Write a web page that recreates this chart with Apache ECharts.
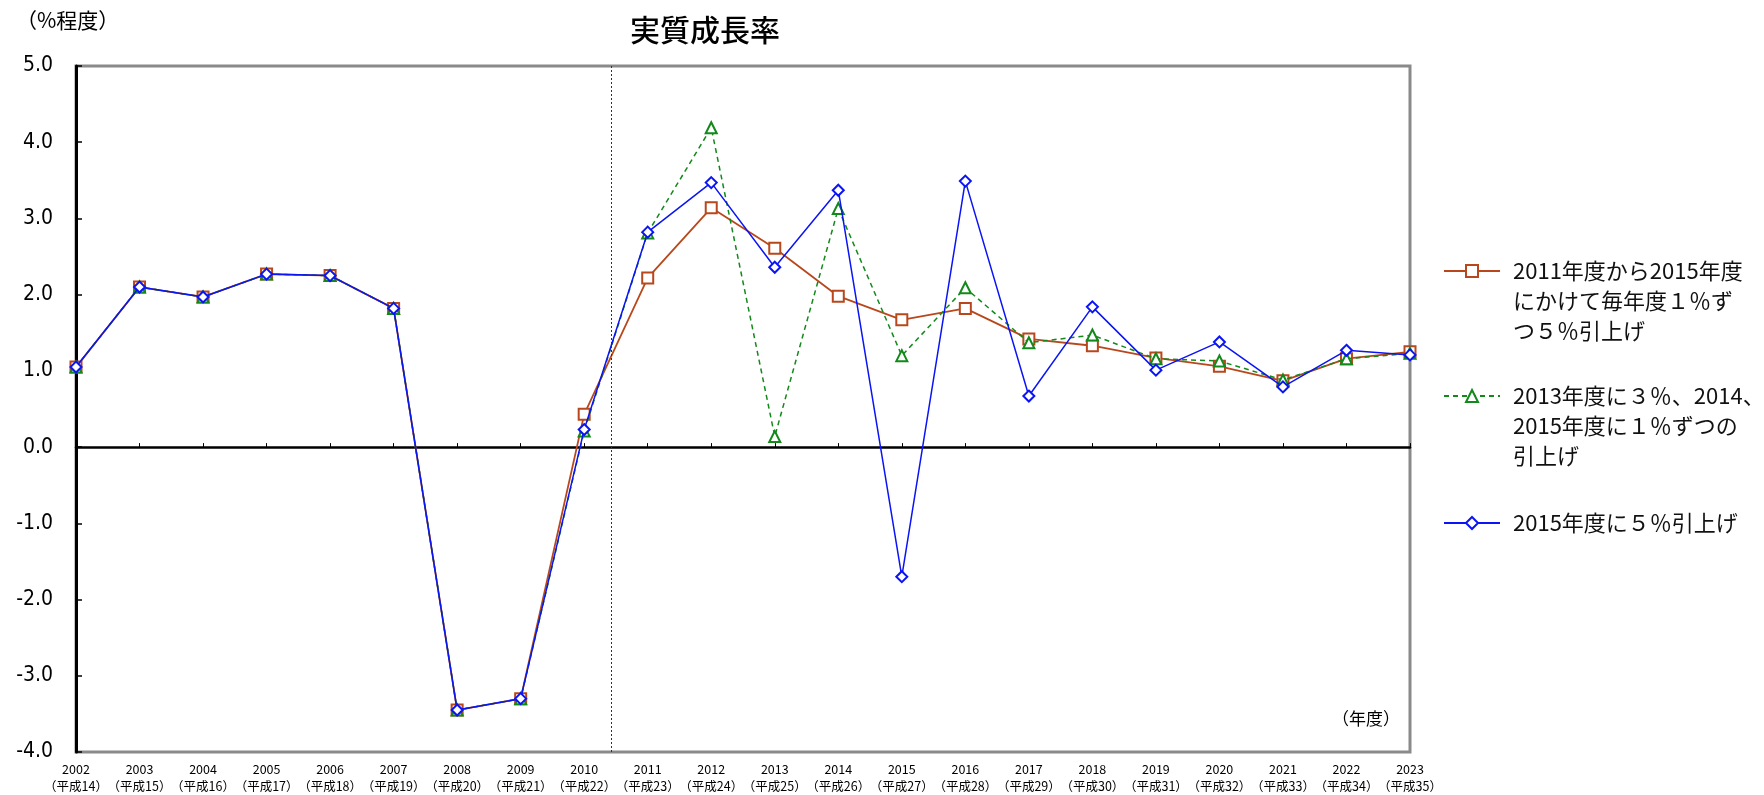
<!DOCTYPE html>
<html>
<head>
<meta charset="utf-8">
<title>実質成長率</title>
<script src="https://cdn.jsdelivr.net/npm/echarts@6/dist/echarts.min.js"></script>
<style>
    html, body { margin: 0; padding: 0; background: #fff; }
    #chart { width: 1764px; height: 795px; }
</style>
</head>
<body>
<div id="chart"></div>
<script>
    // 年度
    const years = ['2002', '2003', '2004', '2005', '2006', '2007', '2008', '2009', '2010', '2011', '2012',
        '2013', '2014', '2015', '2016', '2017', '2018', '2019', '2020', '2021', '2022', '2023']
    const heisei = ['平成14', '平成15', '平成16', '平成17', '平成18', '平成19', '平成20', '平成21', '平成22',
        '平成23', '平成24', '平成25', '平成26', '平成27', '平成28', '平成29', '平成30', '平成31', '平成32',
        '平成33', '平成34', '平成35']

    const names = [
        '2011年度から2015年度\nにかけて毎年度１％ず\nつ５％引上げ',
        '2013年度に３％、2014、\n2015年度に１％ずつの\n引上げ',
        '2015年度に５％引上げ'
    ]

    // 実質成長率 (%程度)
    const stepByStep = [1.05, 2.1, 1.97, 2.27, 2.25, 1.82, -3.45, -3.3, 0.43, 2.22, 3.14,
        2.61, 1.98, 1.67, 1.82, 1.42, 1.33, 1.17, 1.06, 0.87, 1.16, 1.25]
    const from2013 = [1.05, 2.1, 1.97, 2.27, 2.25, 1.82, -3.45, -3.3, 0.21, 2.81, 4.19,
        0.14, 3.13, 1.2, 2.09, 1.37, 1.47, 1.16, 1.13, 0.88, 1.16, 1.23]
    const at2015 = [1.05, 2.1, 1.97, 2.27, 2.25, 1.82, -3.45, -3.3, 0.23, 2.82, 3.47,
        2.36, 3.37, -1.7, 3.49, 0.67, 1.84, 1.01, 1.38, 0.79, 1.27, 1.21]

    const yMin = -4, yMax = 5, yStep = 1
    // 実績と見通しの境目 (2010年度と2011年度の間)
    const splitPos = 8.43

    const font = '"Noto Sans CJK JP", "Noto Sans", sans-serif'
    const colors = ['#B8481C', '#12891A', '#0A14F5']

    let chart = echarts.init(document.getElementById('chart'))

    let lineSeries = [stepByStep, from2013, at2015].map((arr, i) => {
        return {
            name: names[i],
            type: 'line',
            data: arr,
            symbol: ['emptyRect', 'emptyTriangle', 'emptyDiamond'][i],
            symbolSize: 11,
            color: colors[i],
            itemStyle: { color: colors[i], borderWidth: 1.5 },
            lineStyle: {
                color: colors[i],
                width: i == 0 ? 1.8 : 1.5,
                type: i == 1 ? [5, 4] : 'solid'
            },
            z: 3 + i,
            animation: false
        }
    })

    let legends = names.map((name, i) => {
        return {
            data: [name],
            left: 1443,
            top: [196, 321, 508][i],
            padding: 0,
            orient: 'vertical',
            itemWidth: 56,
            itemHeight: 15,
            formatter: i < 2 ? (n => '\n\n' + n) : (n => n),
            textStyle: {
                fontFamily: font,
                fontSize: 22,
                lineHeight: 30,
                color: '#111',
                padding: [0, 0, 0, 8]
            },
            selectedMode: false
        }
    })

    let option = {
        backgroundColor: '#fff',
        animation: false,
        title: [{
            text: '実質成長率',
            left: 630,
            top: 15,
            padding: 0,
            textStyle: { fontFamily: font, fontSize: 30, fontWeight: 500, color: '#000' }
        }, {
            text: '（%程度）',
            left: 16,
            top: 10,
            padding: 0,
            textStyle: { fontFamily: font, fontSize: 21, fontWeight: 'normal', color: '#000' }
        }, {
            text: '（年度）',
            left: 1332,
            top: 710,
            padding: 0,
            textStyle: { fontFamily: font, fontSize: 17, fontWeight: 'normal', color: '#000' }
        }],
        legend: legends,
        grid: {
            left: 76,
            right: 354,
            top: 66,
            bottom: 40,
            show: true,
            borderColor: '#8a8a8a',
            borderWidth: 3,
            backgroundColor: '#fff'
        },
        xAxis: [{
            type: 'category',
            data: years,
            boundaryGap: false,
            position: 'bottom',
            axisLine: { onZero: true, lineStyle: { color: '#000', width: 2.5 } },
            axisTick: { show: true, inside: true, length: 4, lineStyle: { color: '#000' } },
            axisLabel: { show: false },
            splitLine: { show: false }
        }, {
            type: 'category',
            data: years,
            boundaryGap: false,
            position: 'bottom',
            axisLine: { show: false, onZero: false },
            axisTick: { show: false },
            axisLabel: {
                margin: 9,
                interval: 0,
                fontFamily: font,
                fontSize: 12.5,
                lineHeight: 17,
                color: '#000',
                formatter: (v, i) => v + '\n（' + heisei[i] + '）'
            },
            splitLine: { show: false }
        }, {
            type: 'value',
            min: 0,
            max: years.length - 1,
            show: false
        }],
        yAxis: {
            type: 'value',
            min: yMin,
            max: yMax,
            interval: yStep,
            axisLine: { show: true, lineStyle: { color: '#000', width: 3 } },
            axisTick: { show: true, inside: true, length: 6, lineStyle: { color: '#000', width: 1.5 } },
            axisLabel: {
                margin: 23,
                fontFamily: '"Liberation Sans Narrow", "DejaVu Sans Condensed", "Liberation Sans", sans-serif',
                fontSize: 21,
                color: '#000',
                formatter: v => v.toFixed(1)
            },
            splitLine: { show: false }
        },
        series: lineSeries.concat([{
            name: 'split',
            type: 'line',
            xAxisIndex: 2,
            data: [],
            silent: true,
            markLine: {
                silent: true,
                symbol: 'none',
                label: { show: false },
                lineStyle: { color: '#333', width: 1, type: [2, 2] },
                data: [{ xAxis: splitPos }]
            }
        }])
    }

    chart.setOption(option)
</script>
</body>
</html>
